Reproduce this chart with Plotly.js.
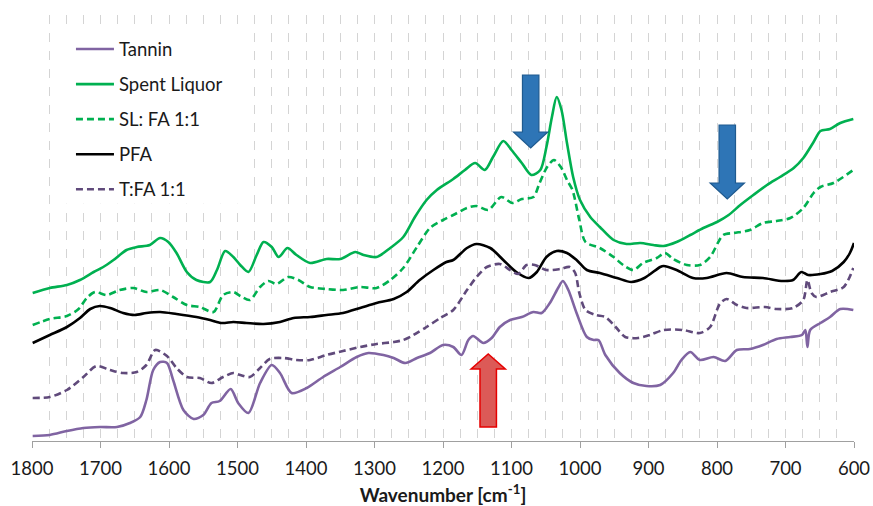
<!DOCTYPE html>
<html>
<head>
<meta charset="utf-8">
<script src="https://cdn.plot.ly/plotly-3.0.1.min.js"></script>
<style>html,body{margin:0;padding:0;background:#fff;}#chart{width:873px;height:506px;}</style>
</head>
<body>
<div id="chart"></div>
<script>
// Wavenumbers (cm-1) and relative absorbance (arbitrary units)
const tanninWn = [1799,1774,1749,1725,1701,1676,1657,1642,1633,1623,1613,1603,1594,1579,1564,1550,1538,1526,1510,1499,1484,1467,1450,1438,1421,1399,1375,1350,1326,1309,1287,1272,1255,1238,1219,1200,1185,1173,1163,1156,1141,1129,1117,1102,1085,1068,1056,1044,1032,1025,1017,1005,990,980,973,963,942,922,903,883,864,852,839,825,805,788,771,752,733,713,693,676,671,668,664,649,635,620,601];
const tanninVal = [5,6,10,13,14,14,18,24,41,71,79,78,61,31,22,26,38,40,52,38,28,58,76,68,48,53,64,74,84,88,86,83,78,83,88,96,94,86,101,105,98,103,114,121,124,129,128,138,153,160,151,128,104,101,101,86,68,58,55,56,68,81,89,81,84,80,91,92,96,102,104,106,111,94,111,118,124,132,131];

const slWn = [1799,1774,1749,1730,1710,1696,1681,1662,1647,1628,1613,1601,1589,1574,1560,1540,1530,1518,1506,1496,1484,1472,1462,1450,1440,1427,1414,1394,1370,1350,1328,1316,1297,1277,1258,1241,1224,1209,1185,1168,1153,1139,1127,1112,1100,1085,1071,1058,1049,1041,1034,1027,1019,1010,1000,985,971,951,932,912,893,878,859,839,820,800,783,766,747,727,708,688,674,659,649,635,620,601];
const slVal = [148,153,156,161,169,174,181,191,194,196,203,199,188,169,161,159,171,190,184,176,169,186,199,194,184,193,186,178,182,182,189,186,184,193,204,224,241,251,262,271,278,271,284,300,291,278,266,271,294,324,344,331,298,264,241,224,214,201,197,198,196,195,199,206,213,219,226,236,246,256,264,273,283,299,310,312,318,322];

const slfaWn = [1799,1774,1749,1732,1720,1708,1691,1672,1652,1633,1613,1594,1574,1555,1535,1521,1506,1496,1482,1467,1455,1443,1426,1411,1394,1370,1346,1321,1297,1277,1258,1238,1219,1200,1185,1165,1151,1134,1115,1099,1085,1068,1059,1048,1038,1028,1019,1011,1001,992,971,951,937,922,908,888,876,864,844,825,810,791,775,752,733,713,693,674,659,649,630,601];
const slfaVal = [116,122,125,132,143,149,146,151,153,149,151,144,136,134,129,146,149,145,141,154,160,157,164,161,154,152,151,154,153,161,173,194,213,221,226,233,235,231,244,238,242,244,258,274,281,274,261,251,221,199,193,184,176,171,178,183,188,182,176,176,184,206,208,211,218,220,223,233,248,254,258,271];

const pfaWn = [1799,1774,1749,1730,1715,1701,1686,1667,1650,1633,1613,1589,1560,1540,1523,1506,1487,1462,1438,1418,1394,1370,1346,1321,1297,1272,1253,1234,1214,1195,1185,1165,1151,1131,1112,1093,1075,1063,1049,1034,1019,1005,990,971,946,925,906,883,878,859,835,815,786,762,733,704,689,677,667,649,632,615,606,600];
const pfaVal = [98,106,114,123,132,135,133,128,126,128,129,127,124,121,118,119,118,117,119,123,124,126,128,133,138,142,149,161,171,179,181,193,197,193,181,169,163,169,184,190,188,181,171,168,163,159,163,174,175,171,163,163,168,164,163,160,161,169,166,167,170,179,188,198];

const tfaWn = [1799,1774,1749,1725,1706,1686,1667,1647,1633,1620,1603,1589,1574,1555,1538,1521,1506,1496,1482,1467,1453,1433,1414,1394,1370,1346,1321,1297,1272,1258,1243,1224,1204,1185,1165,1151,1136,1117,1102,1090,1078,1066,1049,1029,1015,1007,1001,992,977,963,948,934,915,898,878,850,825,810,796,786,771,757,730,713,689,674,668,662,655,635,615,601];
const tfaVal = [43,44,51,64,75,71,68,69,76,91,85,73,64,63,58,64,68,66,64,73,82,83,81,81,86,90,94,97,99,101,106,114,123,131,151,164,174,177,171,167,176,176,171,172,174,168,148,131,126,124,114,104,103,106,111,111,108,114,137,142,136,133,134,132,133,141,161,148,144,149,154,173];

const seriesNames = ["Tannin","Spent Liquor","SL: FA 1:1","PFA","T:FA 1:1"];
const xTickVals = [1800,1700,1600,1500,1400,1300,1200,1100,1000,900,800,700,600];

const styles = [
  {color:"#8064A2", dash:"solid"},
  {color:"#00B050", dash:"solid"},
  {color:"#00B050", dash:"7px,4px"},
  {color:"#000000", dash:"solid"},
  {color:"#604A7B", dash:"7px,4px"}
];
const xs = [tanninWn, slWn, slfaWn, pfaWn, tfaWn];
const ys = [tanninVal, slVal, slfaVal, pfaVal, tfaVal];

const traces = seriesNames.map((n,i)=>({
  type:"scatter", mode:"lines", name:n, x:xs[i], y:ys[i],
  legendgroup:"g"+i,
  line:{color:styles[i].color, width:2.6, dash:styles[i].dash, shape:"spline", smoothing:0.8},
  hoverinfo:"skip"
}));

// block arrow helper (data coordinates)
function blockArrow(cx, yBase, yHeadBase, yTip, shaftHalf, headHalf){
  return `M${cx-shaftHalf},${yBase} L${cx+shaftHalf},${yBase} L${cx+shaftHalf},${yHeadBase} L${cx+headHalf},${yHeadBase} L${cx},${yTip} L${cx-headHalf},${yHeadBase} L${cx-shaftHalf},${yHeadBase} Z`;
}
const shapes = [
  // white legend backdrop (hides gridlines behind the legend)
  {type:"rect", xref:"paper", yref:"paper", x0:0.032, x1:0.265, y0:0.557, y1:0.962, fillcolor:"#ffffff", line:{width:0}, layer:"above"},
  {type:"path", xref:"x", yref:"y", path:blockArrow(1072,366,309,293,12,25), fillcolor:"#2E75B6", line:{color:"#1F5A8F", width:1.2}},
  {type:"path", xref:"x", yref:"y", path:blockArrow(785,316,258,242,12,25), fillcolor:"#2E75B6", line:{color:"#1F5A8F", width:1.2}},
  {type:"path", xref:"x", yref:"y", path:blockArrow(1134,14,72,87,12,25), fillcolor:"#DC5A57", line:{color:"#E60000", width:1.5}}
];

const layout = {
  width:873, height:506,
  margin:{l:32, r:19, t:15, b:65},
  paper_bgcolor:"#ffffff", plot_bgcolor:"#ffffff",
  font:{family:"Lato, 'Open Sans', sans-serif", color:"#1a1a1a"},
  showlegend:true,
  legend:{x:0.0474, y:0.9636, xanchor:"left", yanchor:"top", bgcolor:"rgba(0,0,0,0)",
    font:{size:18.5, family:"Lato, sans-serif", color:"#1a1a1a"}, tracegroupgap:8, itemwidth:38},
  xaxis:{range:[1800,600], tickvals:xTickVals, ticks:"outside", ticklen:6, tickcolor:"#a0a0a0",
    showline:true, linecolor:"#a0a0a0", linewidth:1,
    showgrid:true, gridcolor:"#d4d4d4", griddash:"dash", gridwidth:1,
    minor:{dtick:25, tick0:600, showgrid:true, gridcolor:"#d4d4d4", griddash:"dash", gridwidth:1},
    tickfont:{size:18.5, family:"Lato, sans-serif", color:"#1a1a1a"},
    ticklabelstandoff:5,
    zeroline:false, fixedrange:true,
    title:{text:"<b>Wavenumber [cm<sup>-1</sup>]</b>", font:{size:19, family:"Lato, sans-serif", color:"#1a1a1a"}, standoff:10}},
  yaxis:{range:[0,426], visible:false, showgrid:false, zeroline:false, fixedrange:true},
  shapes:shapes
};
Plotly.newPlot("chart", traces, layout, {displayModeBar:false, staticPlot:true});
</script>
</body>
</html>
